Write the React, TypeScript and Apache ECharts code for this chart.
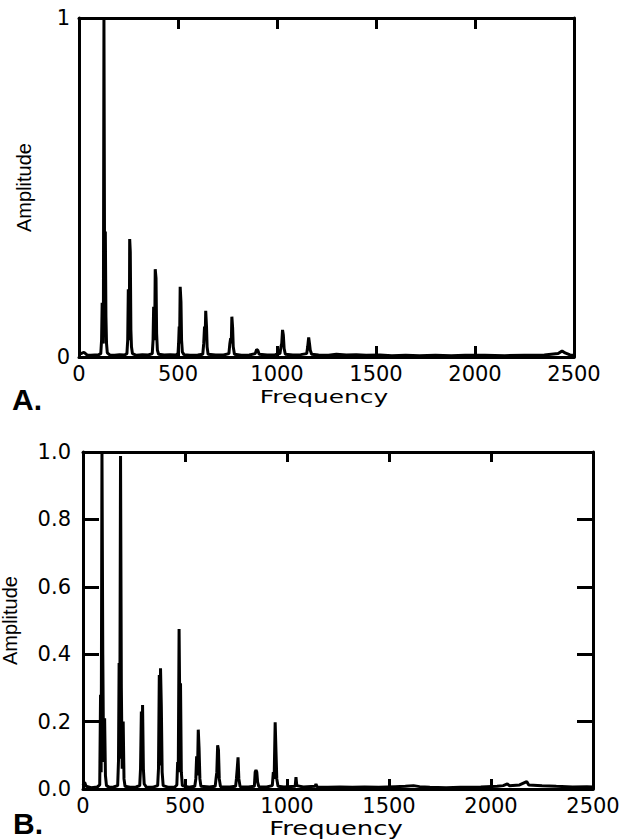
import React, { useEffect, useRef } from "react";
import * as echarts from "echarts";

// ---------- data ----------
const xMin = 0;
const xMax = 2500;
const xStep = 500;
const aYTicks = [0, 1];
const bYTicks = [0, 0.2, 0.4, 0.6, 0.8, 1.0];
const xName = "Frequency";
const yName = "Amplitude";
const panelLabels = ["A.", "B."];

// Panel A spectrum (frequency, amplitude)
const aFreq = [
  0, 10, 25, 40, 60, 80, 100, 110, 114, 117, 120, 123, 126, 129, 133, 136, 139, 143, 155, 180,
  205, 230, 242, 246, 249, 252, 254, 256, 259, 262, 265, 270, 290, 320, 350, 370, 374, 377, 380, 382,
  385, 389, 392, 396, 402, 430, 460, 490, 500, 503, 506, 508, 511, 515, 518, 522, 530, 560, 600, 625,
  630, 634, 637, 640, 644, 647, 652, 690, 730, 757, 762, 766, 769, 772, 776, 779, 785, 820, 860, 890,
  897, 903, 910, 950, 990, 1015, 1020, 1024, 1028, 1032, 1036, 1042, 1080, 1120, 1150, 1155, 1160, 1164, 1168, 1175,
  1210, 1260, 1300, 1350, 1400, 1450, 1520, 1580, 1650, 1720, 1800, 1880, 1950, 2050, 2150, 2250, 2350, 2420, 2440, 2455,
  2480, 2500,
];
const aAmp = [
  0.012, 0.01, 0.014, 0.006, 0.005, 0.006, 0.007, 0.01, 0.05, 0.16, 0.05, 0.04, 1.0, 0.3, 0.37, 0.12, 0.04, 0.012, 0.006, 0.005,
  0.007, 0.006, 0.01, 0.05, 0.2, 0.06, 0.05, 0.348, 0.31, 0.08, 0.03, 0.01, 0.005, 0.007, 0.006, 0.01, 0.05, 0.148, 0.06, 0.05,
  0.259, 0.233, 0.07, 0.02, 0.008, 0.006, 0.007, 0.006, 0.01, 0.04, 0.09, 0.04, 0.207, 0.163, 0.05, 0.015, 0.007, 0.005, 0.006, 0.008,
  0.04, 0.09, 0.05, 0.136, 0.09, 0.03, 0.008, 0.006, 0.006, 0.01, 0.04, 0.055, 0.04, 0.119, 0.085, 0.03, 0.008, 0.005, 0.006, 0.01,
  0.022, 0.02, 0.008, 0.006, 0.007, 0.01, 0.03, 0.04, 0.08, 0.065, 0.025, 0.008, 0.006, 0.007, 0.01, 0.03, 0.058, 0.04, 0.02, 0.008,
  0.006, 0.005, 0.008, 0.006, 0.007, 0.005, 0.006, 0.004, 0.005, 0.004, 0.005, 0.004, 0.005, 0.005, 0.004, 0.005, 0.006, 0.01, 0.018, 0.012,
  0.006, 0.005,
];

// Panel B spectrum (frequency, amplitude)
const bFreq = [
  0, 8, 15, 40, 70, 82, 86, 89, 93, 97, 101, 106, 110, 115, 130, 150, 170, 174, 177, 180,
  184, 188, 192, 197, 201, 206, 230, 260, 278, 282, 286, 289, 292, 296, 300, 310, 340, 366, 370, 374,
  377, 380, 384, 388, 393, 420, 450, 460, 464, 467, 471, 475, 478, 482, 487, 520, 548, 553, 557, 561,
  565, 569, 573, 578, 620, 648, 652, 656, 660, 664, 668, 674, 720, 748, 752, 756, 760, 764, 770, 810,
  840, 844, 848, 852, 856, 862, 900, 928, 933, 937, 942, 946, 950, 956, 985, 1040, 1044, 1048, 1080, 1138,
  1142, 1148, 1200, 1260, 1320, 1380, 1450, 1530, 1580, 1620, 1650, 1700, 1780, 1850, 1950, 2030, 2060, 2080, 2090, 2140,
  2175, 2185, 2250, 2320, 2400, 2470, 2500,
];
const bAmp = [
  0.01, 0.02, 0.008, 0.004, 0.006, 0.012, 0.28, 0.05, 1.0, 0.4, 0.08, 0.21, 0.04, 0.01, 0.005, 0.006, 0.01, 0.084, 0.374, 0.09,
  0.988, 0.3, 0.06, 0.2, 0.03, 0.008, 0.005, 0.006, 0.01, 0.06, 0.23, 0.07, 0.249, 0.06, 0.015, 0.006, 0.005, 0.01, 0.06, 0.338,
  0.07, 0.358, 0.244, 0.05, 0.01, 0.005, 0.006, 0.012, 0.08, 0.05, 0.475, 0.2, 0.314, 0.05, 0.01, 0.005, 0.008, 0.03, 0.097, 0.04,
  0.176, 0.12, 0.03, 0.008, 0.006, 0.008, 0.03, 0.05, 0.13, 0.116, 0.03, 0.007, 0.006, 0.008, 0.03, 0.06, 0.094, 0.03, 0.007, 0.006,
  0.008, 0.05, 0.056, 0.05, 0.02, 0.007, 0.006, 0.01, 0.05, 0.03, 0.198, 0.112, 0.03, 0.008, 0.006, 0.008, 0.035, 0.01, 0.006, 0.008,
  0.015, 0.006, 0.005, 0.006, 0.005, 0.006, 0.005, 0.007, 0.008, 0.01, 0.007, 0.005, 0.004, 0.005, 0.006, 0.008, 0.01, 0.015, 0.01, 0.012,
  0.022, 0.012, 0.01, 0.008, 0.006, 0.007, 0.006,
];

// ---------- helpers ----------
const BLACK = "#000";
const tickFont = "DejaVu Sans";
const nameFont = "Liberation Sans";

function pairs(fs: number[], as: number[]) {
  return fs.map((f, i) => [f, as[i]]);
}

function xAxes(gridIndex: number, tickLen: number) {
  const base = {
    gridIndex,
    type: "value" as const,
    min: xMin,
    max: xMax,
    interval: xStep,
    splitLine: { show: false },
    axisLine: { show: true, onZero: false, lineStyle: { color: BLACK, width: 3 } },
    axisTick: { show: true, inside: true, length: tickLen, lineStyle: { color: BLACK, width: 3 } },
  };
  return [
    {
      ...base,
      position: "bottom",
      axisLabel: {
        show: true,
        color: BLACK,
        fontFamily: tickFont,
        fontSize: 21,
        margin: 6,
        showMinLabel: true,
        showMaxLabel: true,
        formatter: (v: number) => String(v),
      },
    },
    { ...base, position: "top", axisLabel: { show: false } },
  ];
}

function yAxes(gridIndex: number, ticks: number[], tickLen: number, nameGap: number, decimals: number) {
  const step = ticks[1] - ticks[0];
  const base = {
    gridIndex,
    type: "value" as const,
    min: ticks[0],
    max: ticks[ticks.length - 1],
    interval: step,
    splitLine: { show: false },
    axisLine: { show: true, onZero: false, lineStyle: { color: BLACK, width: 3 } },
    axisTick: {
      show: tickLen > 0,
      inside: true,
      length: tickLen,
      lineStyle: { color: BLACK, width: 3 },
    },
  };
  return [
    {
      ...base,
      position: "left",
      name: yName,
      nameLocation: "middle",
      nameGap,
      nameTextStyle: { color: BLACK, fontFamily: nameFont, fontSize: 20 },
      axisLabel: {
        show: true,
        color: BLACK,
        fontFamily: tickFont,
        fontSize: 21,
        margin: decimals > 0 ? 12 : 9,
        showMinLabel: true,
        showMaxLabel: true,
        formatter: (v: number) => v.toFixed(decimals),
      },
    },
    { ...base, position: "right", axisLabel: { show: false } },
  ];
}

export default function App() {
  const ref = useRef<HTMLDivElement>(null);

  useEffect(() => {
    document.body.style.margin = "0";
    if (!ref.current) return;
    const chart = echarts.init(ref.current, null, { renderer: "svg" });

    const option: any = {
      animation: false,
      backgroundColor: "#fff",
      grid: [
        { left: 79, top: 18, width: 495, height: 339, outerBoundsMode: "none", containLabel: false },
        { left: 83, top: 452, width: 510, height: 337, outerBoundsMode: "none", containLabel: false },
      ],
      xAxis: [...xAxes(0, 11), ...xAxes(1, 10)],
      yAxis: [...yAxes(0, aYTicks, 0, 45, 0), ...yAxes(1, bYTicks, 16, 63, 1)],
      series: [
        {
          type: "line",
          xAxisIndex: 0,
          yAxisIndex: 0,
          data: pairs(aFreq, aAmp),
          showSymbol: false,
          lineStyle: { color: BLACK, width: 3 },
          clip: false,
        },
        {
          type: "line",
          xAxisIndex: 2,
          yAxisIndex: 2,
          data: pairs(bFreq, bAmp),
          showSymbol: false,
          lineStyle: { color: BLACK, width: 3 },
          clip: false,
        },
      ],
      graphic: [
        {
          type: "text",
          x: 324,
          y: 397,
          scaleX: 1.38,
          style: {
            text: xName,
            fill: BLACK,
            fontFamily: tickFont,
            fontSize: 18,
            align: "center",
            verticalAlign: "middle",
            textAlign: "center",
            textVerticalAlign: "middle",
          },
        },
        {
          type: "text",
          x: 336,
          y: 828,
          scaleX: 1.36,
          style: {
            text: xName,
            fill: BLACK,
            fontFamily: tickFont,
            fontSize: 19,
            align: "center",
            verticalAlign: "middle",
            textAlign: "center",
            textVerticalAlign: "middle",
          },
        },
        {
          type: "text",
          x: 12,
          y: 399,
          style: {
            text: panelLabels[0],
            fill: BLACK,
            fontFamily: nameFont,
            fontWeight: "bold",
            fontSize: 30,
            align: "left",
            verticalAlign: "middle",
            textAlign: "left",
            textVerticalAlign: "middle",
          },
        },
        {
          type: "text",
          x: 13,
          y: 823,
          style: {
            text: panelLabels[1],
            fill: BLACK,
            fontFamily: nameFont,
            fontWeight: "bold",
            fontSize: 30,
            align: "left",
            verticalAlign: "middle",
            textAlign: "left",
            textVerticalAlign: "middle",
          },
        },
      ],
    };

    chart.setOption(option);
    return () => chart.dispose();
  }, []);

  return (
    <div
      ref={ref}
      style={{ position: "absolute", left: 0, top: 0, width: 641, height: 840, background: "#fff" }}
    />
  );
}
